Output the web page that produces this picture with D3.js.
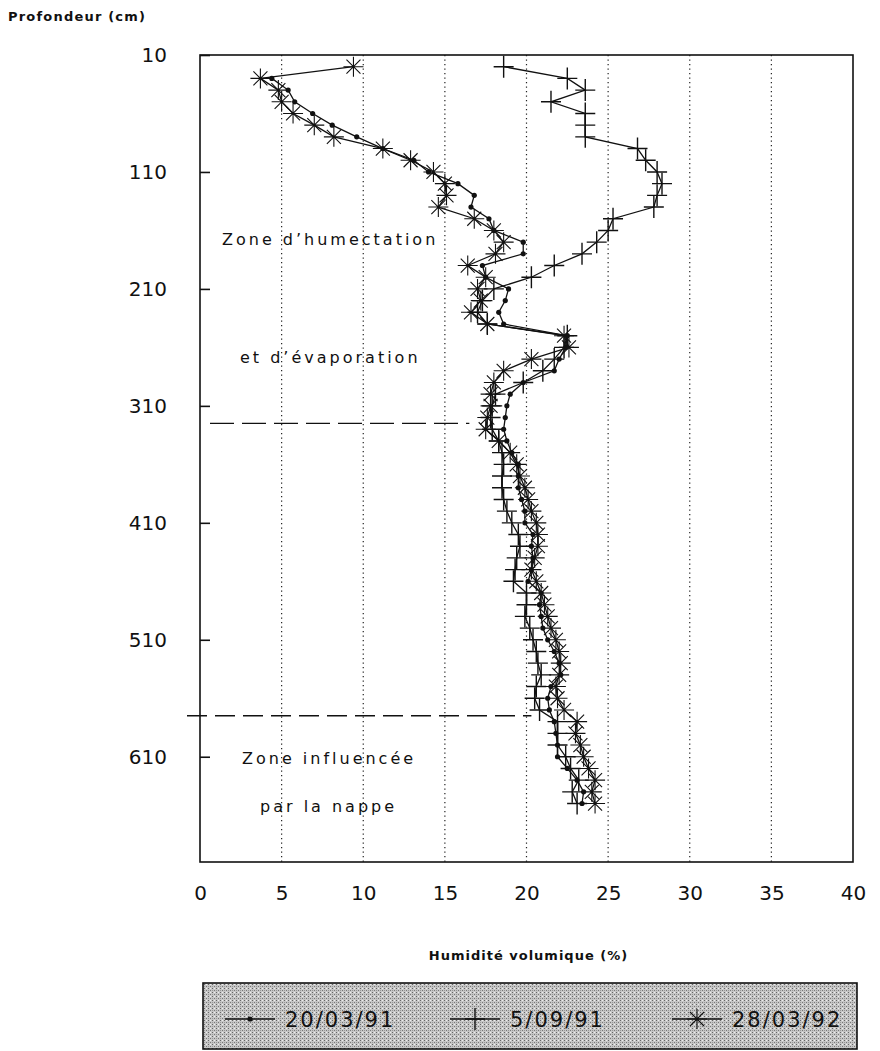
<!DOCTYPE html>
<html>
<head>
<meta charset="utf-8">
<style>
  body { margin: 0; background: #fff; }
  svg text { font-family: "DejaVu Sans", sans-serif; fill: #111; }
  .axis path, .axis line { stroke: #111; stroke-width: 1.6px; }
  .axis text { font-size: 20px; }
  .grid line { stroke: #222; stroke-width: 1.2px; stroke-dasharray: 1.2 3.3; }
  .profil { fill: none; stroke: #111; stroke-width: 1.3px; }
</style>
</head>
<body>
<script src="https://cdn.jsdelivr.net/npm/d3@7"></script>
<script>
// profondeurs (cm), un point tous les 10 cm
var depths1 = d3.range(30, 660, 10);   // 20/03/91
var depths2 = d3.range(20, 660, 10);   // 5/09/91
var depths3 = d3.range(20, 660, 10);   // 28/03/92

// humidité volumique (%)
var hum1 = [4.4, 5.4, 5.8, 6.9, 8.1, 9.6, 11.2, 13.1, 14.0, 15.8,
            16.8, 16.6, 17.7, 18.0, 19.8, 19.8, 17.3, 17.5, 18.9, 18.7,
            18.3, 18.6, 22.5, 22.4, 22.0, 21.7, 19.8, 19.0, 18.8, 18.7,
            18.6, 18.8, 19.1, 19.5, 19.5, 19.5, 19.7, 19.9, 19.9, 20.4,
            20.3, 20.4, 20.3, 20.1, 20.9, 20.8, 20.9, 21.0, 21.3, 21.7,
            22.0, 22.1, 21.5, 21.3, 21.4, 21.7, 21.8, 21.9, 21.9, 22.5,
            23.1, 23.5, 23.4];
var hum2 = [18.6, 22.5, 23.6, 21.5, 23.6, 23.6, 23.6, 26.8, 27.3, 28.0,
            28.3, 28.0, 27.8, 25.3, 25.0, 24.3, 23.4, 21.7, 20.3, 18.0,
            17.3, 17.0, 17.6, 22.5, 22.3, 21.7, 21.0, 19.8, 18.1, 17.9,
            17.8, 17.9, 18.3, 18.5, 18.6, 18.5, 18.5, 18.6, 18.8, 19.1,
            19.5, 19.6, 19.4, 19.3, 19.2, 20.0, 20.0, 19.9, 20.2, 20.4,
            20.6, 20.7, 20.9, 20.6, 20.5, 20.8, 21.9, 21.9, 21.9, 22.4,
            22.7, 23.2, 22.8, 23.1];
var hum3 = [9.4, 3.7, 4.8, 5.0, 5.7, 7.0, 8.2, 11.2, 12.9, 14.3,
            15.0, 15.1, 14.6, 16.8, 18.0, 18.6, 18.1, 16.4, 17.5, 17.0,
            17.2, 16.6, 17.6, 22.3, 22.6, 20.3, 18.6, 18.0, 17.8, 17.8,
            17.6, 17.5, 18.3, 19.0, 19.4, 19.6, 19.9, 20.1, 20.3, 20.6,
            20.7, 20.7, 20.5, 20.3, 20.6, 20.9, 21.1, 21.3, 21.5, 21.8,
            22.0, 22.1, 22.0, 21.8, 21.9, 22.3, 23.1, 23.0, 23.3, 23.5,
            23.8, 24.2, 24.0, 24.2];

var seriesNames = ["20/03/91", "5/09/91", "28/03/92"];
var xTicks = [0, 5, 10, 15, 20, 25, 30, 35, 40];
var yTicks = [10, 110, 210, 310, 410, 510, 610];
var gridValues = [5, 10, 15, 20, 25, 30, 35];
var zoneLimits = [325, 575];   // limites des zones (cm)

var width = 880, height = 1051;
var plotL = 200, plotR = 853, plotT = 55, plotB = 862;

var svg = d3.select("body").append("svg")
    .attr("width", width)
    .attr("height", height);

var x = d3.scaleLinear().domain([0, 40]).range([plotL, plotR]);
var y = d3.scaleLinear().domain([10, 700]).range([plotT, plotB]);

// grille pointillée
svg.append("g")
    .attr("class", "grid")
    .selectAll("line")
    .data(gridValues)
    .enter().append("line")
    .attr("x1", function(d) { return x(d); })
    .attr("x2", function(d) { return x(d); })
    .attr("y1", plotT)
    .attr("y2", plotB);

// cadre
svg.append("rect")
    .attr("x", plotL)
    .attr("y", plotT)
    .attr("width", plotR - plotL)
    .attr("height", plotB - plotT)
    .attr("fill", "none")
    .attr("stroke", "#111")
    .attr("stroke-width", 1.6);

svg.append("g")
    .attr("class", "axis")
    .attr("transform", "translate(" + plotL + ",0)")
    .call(d3.axisLeft(y).tickValues(yTicks).tickSizeInner(-10).tickSizeOuter(0).tickPadding(33))
    .call(function(g) { g.select(".domain").remove(); });

svg.append("g")
    .attr("class", "axis")
    .attr("transform", "translate(0," + plotB + ")")
    .call(d3.axisBottom(x).tickValues(xTicks).tickSize(0).tickPadding(24))
    .call(function(g) { g.select(".domain").remove(); });

// limites de zones
svg.append("line")
    .attr("x1", 210).attr("x2", x(16.5))
    .attr("y1", y(zoneLimits[0])).attr("y2", y(zoneLimits[0]))
    .attr("stroke", "#111").attr("stroke-width", 1.4)
    .attr("stroke-dasharray", "24 8");
svg.append("line")
    .attr("x1", 187).attr("x2", x(20.3))
    .attr("y1", y(zoneLimits[1])).attr("y2", y(zoneLimits[1]))
    .attr("stroke", "#111").attr("stroke-width", 1.4)
    .attr("stroke-dasharray", "20 8");

// textes des zones
var notes = [
    { t: "Zone d\u2019humectation", x: 222, y: 245 },
    { t: "et d\u2019évaporation", x: 240, y: 363 },
    { t: "Zone influencée", x: 242, y: 764 },
    { t: "par la nappe", x: 260, y: 812 }
];
svg.append("g").selectAll("text")
    .data(notes)
    .enter().append("text")
    .attr("x", function(d) { return d.x; })
    .attr("y", function(d) { return d.y; })
    .style("font-size", "16px")
    .style("letter-spacing", "3px")
    .text(function(d) { return d.t; });

// marqueurs
var markerPaths = [
    null,
    "M-10,0H10M0,-11V11",
    "M-10,0H10M0,-10V10M-7,-7L7,7M-7,7L7,-7"
];

function drawMarker(sel, k) {
    if (k === 0) {
        sel.append("circle").attr("r", 2.6).attr("fill", "#111");
    } else {
        sel.append("path")
            .attr("d", markerPaths[k])
            .attr("fill", "none")
            .attr("stroke", "#111")
            .attr("stroke-width", k === 1 ? 1.4 : 1.1);
    }
}

var series = [
    depths1.map(function(d, i) { return { d: d, v: hum1[i] }; }),
    depths2.map(function(d, i) { return { d: d, v: hum2[i] }; }),
    depths3.map(function(d, i) { return { d: d, v: hum3[i] }; })
];

var line = d3.line()
    .x(function(p) { return x(p.v); })
    .y(function(p) { return y(p.d); });

series.forEach(function(s, k) {
    var g = svg.append("g");
    g.append("path").attr("class", "profil").attr("d", line(s));
    g.selectAll("g.pt")
        .data(s)
        .enter().append("g")
        .attr("class", "pt")
        .attr("transform", function(p) { return "translate(" + x(p.v) + "," + y(p.d) + ")"; })
        .each(function() { drawMarker(d3.select(this), k); });
});

// titres des axes
svg.append("text")
    .attr("x", 8).attr("y", 21)
    .style("font-size", "13px")
    .style("font-weight", "bold")
    .style("letter-spacing", "1.2px")
    .text("Profondeur (cm)");

svg.append("text")
    .attr("x", (plotL + plotR) / 2 + 2).attr("y", 960)
    .attr("text-anchor", "middle")
    .style("font-size", "13px")
    .style("font-weight", "bold")
    .style("letter-spacing", "1px")
    .text("Humidité volumique (%)");

// légende
var defs = svg.append("defs");
var pat = defs.append("pattern")
    .attr("id", "trame")
    .attr("width", 4).attr("height", 4)
    .attr("patternUnits", "userSpaceOnUse");
pat.append("rect").attr("width", 4).attr("height", 4).attr("fill", "#c6c6c6");
pat.append("rect").attr("width", 1).attr("height", 1).attr("fill", "#666");
pat.append("rect").attr("x", 2).attr("y", 2).attr("width", 1).attr("height", 1).attr("fill", "#777");
pat.append("rect").attr("x", 2).attr("y", 0).attr("width", 1).attr("height", 1).attr("fill", "#eee");
pat.append("rect").attr("x", 0).attr("y", 2).attr("width", 1).attr("height", 1).attr("fill", "#999");

svg.append("rect")
    .attr("x", 203).attr("y", 983)
    .attr("width", 654).attr("height", 66)
    .attr("fill", "url(#trame)")
    .attr("stroke", "#111")
    .attr("stroke-width", 1.6);

var legX = [225, 450, 672];
var legend = svg.append("g").selectAll("g")
    .data(seriesNames)
    .enter().append("g")
    .attr("transform", function(d, i) { return "translate(" + legX[i] + ",1019)"; });

legend.append("line")
    .attr("x1", 0).attr("x2", 50)
    .attr("stroke", "#111").attr("stroke-width", 1.3);
legend.append("g")
    .attr("transform", "translate(25,0)")
    .each(function(d, i) { drawMarker(d3.select(this), i); });
legend.append("text")
    .attr("x", 60).attr("y", 8)
    .style("font-size", "21px")
    .style("letter-spacing", "2px")
    .text(function(d) { return d; });
</script>
</body>
</html>
